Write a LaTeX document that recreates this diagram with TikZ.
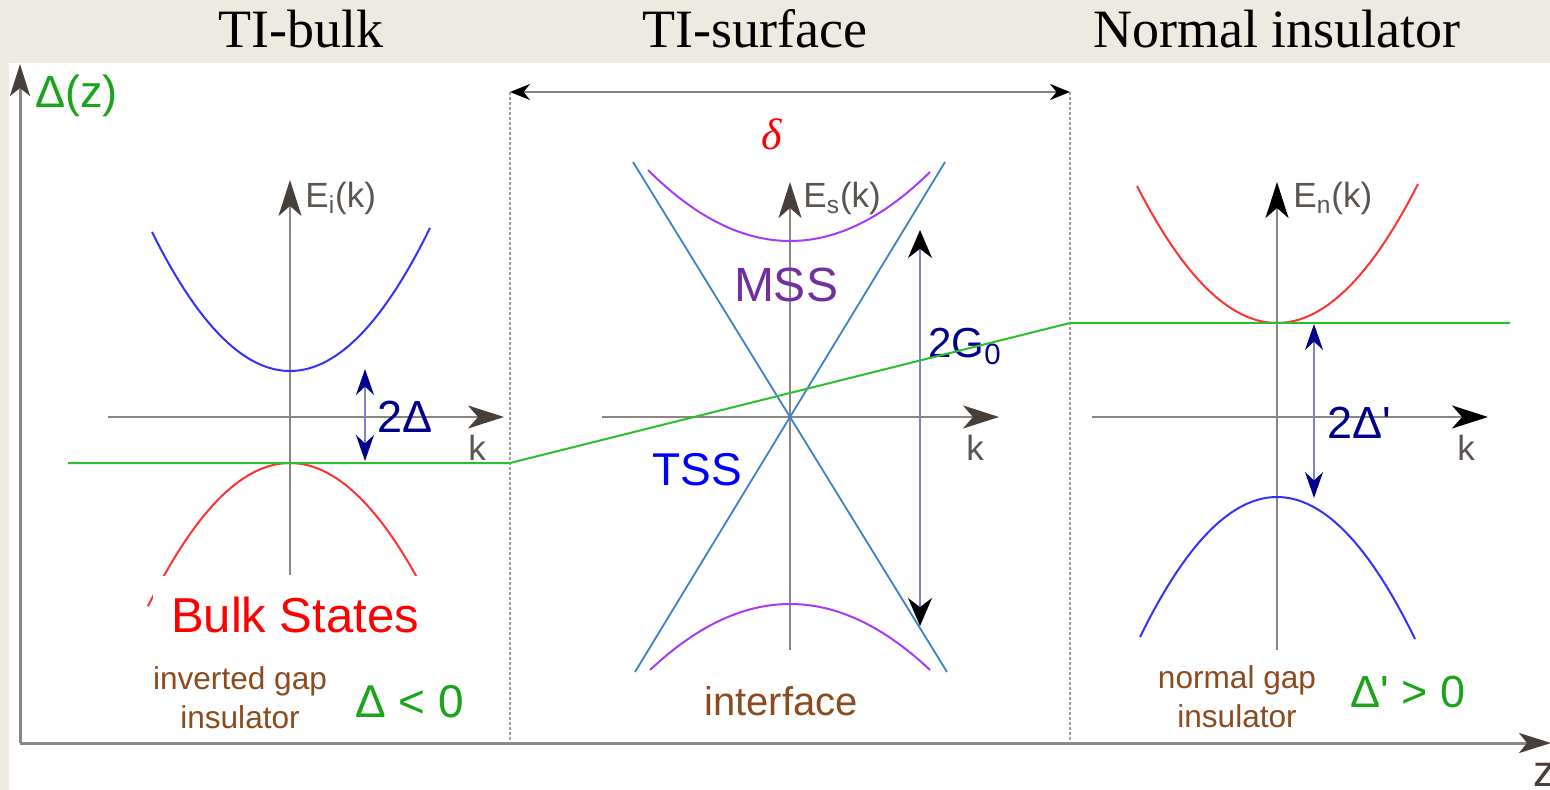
\documentclass[tikz,border=0pt]{standalone}
\usepackage{fontspec}
\setmainfont{Liberation Serif}
\setsansfont{Liberation Sans}
\usetikzlibrary{arrows.meta}
\definecolor{beige}{RGB}{237,235,224}
\definecolor{axgray}{RGB}{140,134,130}
\definecolor{axhead}{RGB}{72,62,58}
\definecolor{labgray}{RGB}{90,85,80}
\definecolor{dgreen}{RGB}{25,165,25}
\definecolor{lgreen}{RGB}{45,190,45}
\definecolor{navyc}{RGB}{0,0,140}
\definecolor{arrline}{RGB}{130,130,200}
\definecolor{brownc}{RGB}{140,75,30}
\definecolor{tssblue}{RGB}{60,130,200}
\definecolor{mssviolet}{RGB}{165,60,250}
\definecolor{msstext}{RGB}{112,48,160}
\definecolor{bandblue}{RGB}{50,50,255}
\definecolor{bandred}{RGB}{255,50,50}
\definecolor{dotgray}{RGB}{160,160,160}
\begin{document}
\begin{tikzpicture}[x=0.5pt,y=-0.5pt,
  lab/.style={inner sep=0pt},
  kax/.style={draw=axgray,line width=1.2pt,-{Stealth[color=axhead,length=18pt,width=11.5pt,inset=5pt]}},
  kaxb/.style={draw=axgray,line width=1.2pt,-{Stealth[color=black,length=18pt,width=11.5pt,inset=5pt]}},
  mainax/.style={draw=axgray,line width=1.5pt,-{Stealth[color=axhead,length=16pt,width=10pt,inset=4pt]}},
  dotline/.style={draw=dotgray,line width=1.3pt,dash pattern=on 1.3pt off 1.2pt},
  band/.style={line width=1pt},
  gaparrow/.style={draw=arrline,line width=1.1pt,{Stealth[color=navyc,length=13pt,width=9pt]}-{Stealth[color=navyc,length=13pt,width=9pt]}},
  bigarrow/.style={draw=arrline,line width=1.1pt,{Stealth[color=black,length=14pt,width=12pt]}-{Stealth[color=black,length=14pt,width=12pt]}},
  deltaarrow/.style={draw=gray,line width=1.2pt,{Stealth[color=black,length=10pt,width=8pt]}-{Stealth[color=black,length=10pt,width=8pt]}},
  header/.style={lab,font=\fontsize{27}{32}\selectfont},
  klab/.style={lab,text=labgray,font=\sffamily\fontsize{17.5}{21}\selectfont},
  note/.style={lab,text=brownc,align=center,font=\sffamily\fontsize{15.8}{19.5}\selectfont}
]
% background
\fill[beige] (0,0) rectangle (1550,790);
\fill[white] (9,63) rectangle (1550,790);
\useasboundingbox (0,0) rectangle (1550,790);

% headers
\node[header,anchor=base] (hbulk) at (301,48) {TI-bulk};
\node[header,anchor=base] (hsurf) at (755,48) {TI-surface};
\node[header,anchor=base] (hnorm) at (1277,48) {Normal insulator};

% main axes
\coordinate (O) at (20,743);
\coordinate (ztop) at (20,64);
\coordinate (zend) at (1551,743);
\draw[mainax] (O) -- (ztop);
\draw[mainax] (O) -- (zend);
\node[lab,anchor=base west,text=dgreen,font=\sffamily\fontsize{22.5}{27}\selectfont] (dz) at (35,108) {Δ(z)};
\node[lab,anchor=base west,text=axhead,font=\sffamily\fontsize{22}{26}\selectfont] (zlab) at (1533,786) {z};

% dotted separators and delta arrow
\coordinate (d1t) at (510,92);
\coordinate (d1b) at (510,743);
\coordinate (d2t) at (1070,92);
\coordinate (d2b) at (1070,743);
\draw[dotline] (d1t) -- (d1b);
\draw[dotline] (d2t) -- (d2b);
\draw[deltaarrow] (d1t) -- (d2t);
\node[lab,anchor=base,text=red,font=\itshape\fontsize{22}{26}\selectfont] (delta) at (772,150) {δ};

% ---------- left panel ----------
\coordinate (Lvb) at (290,575);
\coordinate (Lvt) at (290,180);
\coordinate (Lkl) at (108,417);
\coordinate (Lkr) at (504,417);
\draw[kax] (Lvb) -- (Lvt);
\draw[kax] (Lkl) -- (Lkr);
\draw[band,bandblue] plot[domain=-138:140,samples=60] ({290+\x},{371-139*(\x/138)^2});
\draw[band,bandred] plot[domain=-142:130,samples=60] ({290+\x},{463+71*(\x/100)^2});
\node[klab,anchor=base west] (Ei) at (305,208) {E\textsubscript{i}(k)};
\node[klab,anchor=base west] (kL) at (468,460) {k};
\coordinate (gapLt) at (365,369);
\coordinate (gapLb) at (365,461);
\draw[gaparrow] (gapLt) -- (gapLb);
\node[lab,anchor=base west,text=navyc,font=\sffamily\fontsize{22.5}{27}\selectfont] (twoD) at (377,432) {2Δ};
\node[fill=white,inner xsep=9pt,inner ysep=10pt,anchor=base,text=red,font=\sffamily\fontsize{24.5}{29}\selectfont] (bulk) at (295,632) {Bulk States};
\node[note,anchor=north] (inv) at (240,666) {inverted gap\\insulator};
\node[lab,anchor=base west,text=dgreen,font=\sffamily\fontsize{23}{27}\selectfont] (dlt) at (355,717) {Δ < 0};

% ---------- middle panel ----------
\coordinate (Mvb) at (790,650);
\coordinate (Mvt) at (790,182);
\coordinate (Mkl) at (602,417);
\coordinate (Mkr) at (999,417);
\draw[kax] (Mvb) -- (Mvt);
\draw[kax] (Mkl) -- (Mkr);
\coordinate (t1a) at (633,162);
\coordinate (t1b) at (947,672);
\coordinate (t2a) at (945,162);
\coordinate (t2b) at (635,672);
\draw[tssblue,line width=0.9pt] (t1a) -- (t1b);
\draw[tssblue,line width=0.9pt] (t2a) -- (t2b);
\draw[band,mssviolet] plot[domain=-142:140,samples=60] ({790+\x},{241-69*(\x/140)^2});
\draw[band,mssviolet] plot[domain=-140:140,samples=60] ({790+\x},{604+66*(\x/140)^2});
\node[klab,anchor=base west] (Es) at (803,208) {E\textsubscript{s}(k)};
\node[klab,anchor=base west] (kM) at (966,460) {k};
\node[lab,anchor=base,text=msstext,font=\sffamily\fontsize{24}{29}\selectfont] (mss) at (786,302) {MSS};
\node[lab,anchor=base,text=blue,font=\sffamily\fontsize{23}{28}\selectfont] (tss) at (697,485) {TSS};
\coordinate (G0t) at (920,230);
\coordinate (G0b) at (920,626);
\draw[bigarrow] (G0t) -- (G0b);
\node[lab,anchor=base west,text=navyc,font=\sffamily\fontsize{21}{25}\selectfont] (G0) at (928,358) {2G\textsubscript{0}};
\node[lab,anchor=base,text=brownc,font=\sffamily\fontsize{20}{24}\selectfont] (intf) at (781,715) {interface};

% ---------- right panel ----------
\coordinate (Rvb) at (1277,650);
\coordinate (Rvt) at (1277,182);
\coordinate (Rkl) at (1092,417);
\coordinate (Rkr) at (1488,417);
\draw[kaxb] (Rvb) -- (Rvt);
\draw[kaxb] (Rkl) -- (Rkr);
\draw[band,bandred] plot[domain=-140:141,samples=60] ({1277+\x},{323-137*(\x/140)^2});
\draw[band,bandblue] plot[domain=-137:138,samples=60] ({1277+\x},{497+140*(\x/137)^2});
\node[klab,anchor=base west] (En) at (1293,208) {E\textsubscript{n}(k)};
\node[klab,anchor=base west] (kR) at (1457,460) {k};
\coordinate (gapRt) at (1314,324);
\coordinate (gapRb) at (1314,498);
\draw[gaparrow] (gapRt) -- (gapRb);
\node[lab,anchor=base west,text=navyc,font=\sffamily\fontsize{22.5}{27}\selectfont] (twoDp) at (1327,438) {2Δ\textquotesingle};
\node[note,anchor=north] (nrm) at (1237,665) {normal gap\\insulator};
\node[lab,anchor=base west,text=dgreen,font=\sffamily\fontsize{22.5}{27}\selectfont] (dgt) at (1350,707) {Δ\textquotesingle{} > 0};

% ---------- Delta(z) profile ----------
\coordinate (gA) at (68,463);
\coordinate (gB) at (510,463);
\coordinate (gC) at (1070,323);
\coordinate (gD) at (1510,323);
\draw[lgreen,line width=1pt] (gA) -- (gB) -- (gC) -- (gD);
\end{tikzpicture}
\end{document}
